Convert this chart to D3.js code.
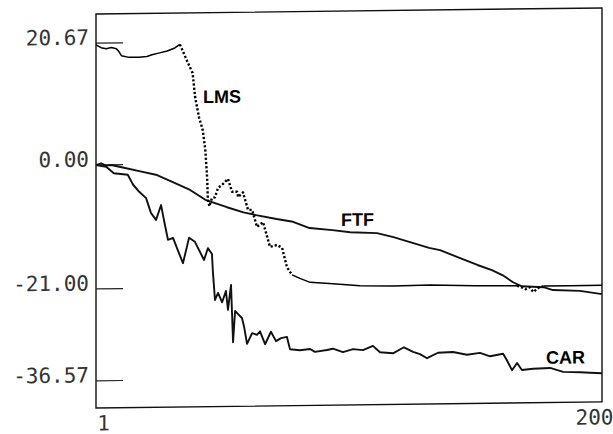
<!DOCTYPE html>
<html>
<head>
<meta charset="utf-8">
<script src="https://cdn.jsdelivr.net/npm/d3@7"></script>
<style>
  body { margin: 0; background: #fff; }
  svg { display: block; }
</style>
</head>
<body>
<svg id="chart" width="613" height="434"></svg>
<script>
// [iteration, value]
const lms = [
  [1, 20.3], [3, 19.8], [5, 19.6], [7, 19.8], [9, 19.6], [10, 19.1], [11, 18.4], [14, 18.1],
  [18, 18.1], [21, 18.2], [23, 18.5], [26, 18.8], [29, 19.1], [32, 19.6], [34, 20.2], [35, 19.2],
  [37, 17.2], [39, 15.3], [40, 11.2], [41.5, 7.8], [43, 5.6], [44, 2.2], [44.7, -2.4], [45, -6.2],
  [45.6, -7.3], [46.6, -5.9], [47.8, -5.8], [49, -4.2], [50.6, -3.7], [52.9, -2.7], [54.5, -4.9],
  [56.5, -4.9], [56.9, -5.8], [58.8, -5.0], [60.8, -8.0], [62.4, -8.0], [64.3, -10.9], [66.7, -10.1],
  [69.4, -14.3], [72.2, -14.0], [74.2, -14.5], [76.1, -17.8], [78.1, -19.1], [81.2, -19.7],
  [85.2, -20.4], [94.2, -20.7], [104.8, -21.1], [117.8, -21.2], [132.4, -21.1], [150, -21.3],
  [166.6, -21.4], [168, -21.6], [170, -22.0], [171.5, -21.7], [173, -22.5], [175, -21.8],
  [177, -21.5], [187.4, -21.5], [200, -21.5]
];

const ftf = [
  [1, -0.1], [3, 0.2], [5, -0.2], [7, -0.1], [12, -0.6], [18, -1.2], [25, -1.9], [31, -3.1],
  [38, -4.5], [44, -6.2], [52.5, -7.5], [59, -8.4], [64, -8.9], [72, -9.6], [78.5, -10.1],
  [85, -11.2], [94, -11.6], [101, -12.0], [111.5, -12.2], [118, -12.9], [124.5, -13.8],
  [132, -14.8], [136.3, -15.2], [144.2, -16.6], [151, -17.8], [156.7, -18.7], [161, -19.6],
  [165, -20.8], [168.5, -21.5], [177, -21.7], [180.7, -22.2], [191.3, -22.4], [200, -23.0]
];

const car = [
  [1, -0.1], [5, -0.4], [8, -1.5], [13.5, -1.8], [15.6, -3.5], [18, -4.7], [20.7, -5.8],
  [22.6, -8.3], [24.6, -9.5], [26.6, -7.0], [27.7, -9.5], [29.3, -12.9], [31.3, -12.6],
  [33.2, -14.7], [35.2, -16.9], [37.6, -12.6], [39.9, -13.3], [43.5, -16.4], [45, -14.4],
  [46.6, -15.4], [47, -18.6], [47.8, -23.2], [49, -22.0], [50.6, -23.6], [52.1, -21.7],
  [52.9, -24.9], [54.1, -20.7], [54.9, -30.4], [55.7, -25.1], [56.8, -25.6], [58.4, -26.3],
  [59.2, -27.7], [60.4, -30.7], [62.4, -28.9], [64.3, -29.2], [65.5, -28.6], [67.5, -30.8],
  [69.8, -28.7], [71.8, -30.3], [73.8, -29.8], [76.1, -29.6], [77.3, -31.7], [81.2, -31.9],
  [85.2, -31.7], [87.1, -32.2], [91.8, -31.9], [94.2, -31.7], [98.1, -32.3], [102.1, -31.8],
  [106, -32.0], [109.9, -31.3], [112.7, -32.4], [117.8, -32.6], [122.1, -31.6], [125.7, -32.4],
  [128.4, -32.8], [131.2, -33.5], [135.5, -32.6], [141.4, -32.5], [146.9, -33.0], [152, -32.7],
  [156, -33.3], [161.1, -32.9], [162.6, -34.0], [164.6, -35.7], [166.6, -34.5], [168.5, -35.7],
  [172.9, -35.5], [179.6, -35.4], [184.7, -36.1], [191.4, -36.2], [195.3, -36.3], [200, -36.4]
];

const yTicks = [20.67, 0, -21, -36.57];
const xTicks = [1, 200];

const seriesLabels = [
  { text: "LMS", i: 43.1, v: 10.2 },
  { text: "FTF", i: 97.4, v: -10.9 },
  { text: "CAR", i: 178, v: -34.7 }
];

// iteration spans where the LMS trace shows up as dots
const lmsDottedSpans = [[34, 79], [166.6, 177]];

const svg = d3.select("#chart");
const plot = { left: 96, right: 602, top: 14, bottom: 408 };
const SKEW = 0.012; // the scanned original is slightly sheared

const x = d3.scaleLinear().domain([1, 200]).range([plot.left, plot.right]);
const y = d3.scaleLinear().domain([-36.57, 20.67]).range([380.3, 42.6]);

const g = svg.append("g")
    .attr("transform", `matrix(1,${-SKEW},0,1,0,${SKEW * plot.left})`);

// frame
g.append("rect")
    .attr("x", plot.left)
    .attr("y", plot.top)
    .attr("width", plot.right - plot.left)
    .attr("height", plot.bottom - plot.top)
    .attr("fill", "none")
    .attr("stroke", "#111")
    .attr("stroke-width", 1.4);

// y ticks point into the plot
const yAxis = d3.axisLeft(y)
    .tickValues(yTicks)
    .tickSize(-27)
    .tickPadding(7)
    .tickFormat(d => d.toFixed(2));

g.append("g")
    .attr("transform", `translate(${plot.left},0)`)
    .call(yAxis)
    .attr("font-family", "'DejaVu Sans Mono', monospace")
    .attr("font-size", 21)
    .call(a => a.select(".domain").remove())
    .call(a => a.selectAll(".tick line").attr("stroke", "#222").attr("stroke-width", 1.2))
    .call(a => a.selectAll(".tick text").attr("dy", "0.07em").attr("fill", "#333"));

const xAxis = d3.axisBottom(x)
    .tickValues(xTicks)
    .tickSize(0)
    .tickPadding(7.6)
    .tickFormat(d3.format("d"));

g.append("g")
    .attr("transform", `translate(0,${plot.bottom})`)
    .call(xAxis)
    .attr("font-family", "'DejaVu Sans Mono', monospace")
    .attr("font-size", 21)
    .call(a => a.select(".domain").remove())
    .call(a => a.selectAll(".tick text").attr("fill", "#333").attr("dx", d => d === 1 ? 7 : -8));

const line = d3.line()
    .x(d => x(d[0]))
    .y(d => y(d[1]));

// solid curves
[ftf, car].forEach(s => {
    g.append("path")
        .datum(s)
        .attr("d", line)
        .attr("fill", "none")
        .attr("stroke", "#111")
        .attr("stroke-width", 1.9)
        .attr("stroke-linejoin", "round");
});

// LMS: split into solid and dotted pieces
const isDotted = (a, b) => {
    const mid = (a[0] + b[0]) / 2;
    return lmsDottedSpans.some(([s, e]) => mid >= s && mid <= e);
};
const pieces = [];
for (let k = 1; k < lms.length; k++) {
    const dotted = isDotted(lms[k - 1], lms[k]);
    const last = pieces[pieces.length - 1];
    if (last && last.dotted === dotted) last.pts.push(lms[k]);
    else pieces.push({ dotted, pts: [lms[k - 1], lms[k]] });
}

g.selectAll(".lms")
    .data(pieces)
    .enter()
    .append("path")
    .attr("class", "lms")
    .attr("d", d => line(d.pts))
    .attr("fill", "none")
    .attr("stroke", "#000")
    .attr("stroke-width", d => d.dotted ? 2.4 : 1.5)
    .attr("stroke-dasharray", d => d.dotted ? "2.2,2" : null)
    .attr("stroke-linejoin", "round");

// curve names
g.selectAll(".series-label")
    .data(seriesLabels)
    .enter()
    .append("text")
    .attr("class", "series-label")
    .attr("x", d => x(d.i))
    .attr("y", d => y(d.v))
    .attr("font-family", "'Liberation Sans', Arial, sans-serif")
    .attr("font-weight", "bold")
    .attr("font-size", 18)
    .attr("fill", "#000")
    .text(d => d.text);
</script>
</body>
</html>
